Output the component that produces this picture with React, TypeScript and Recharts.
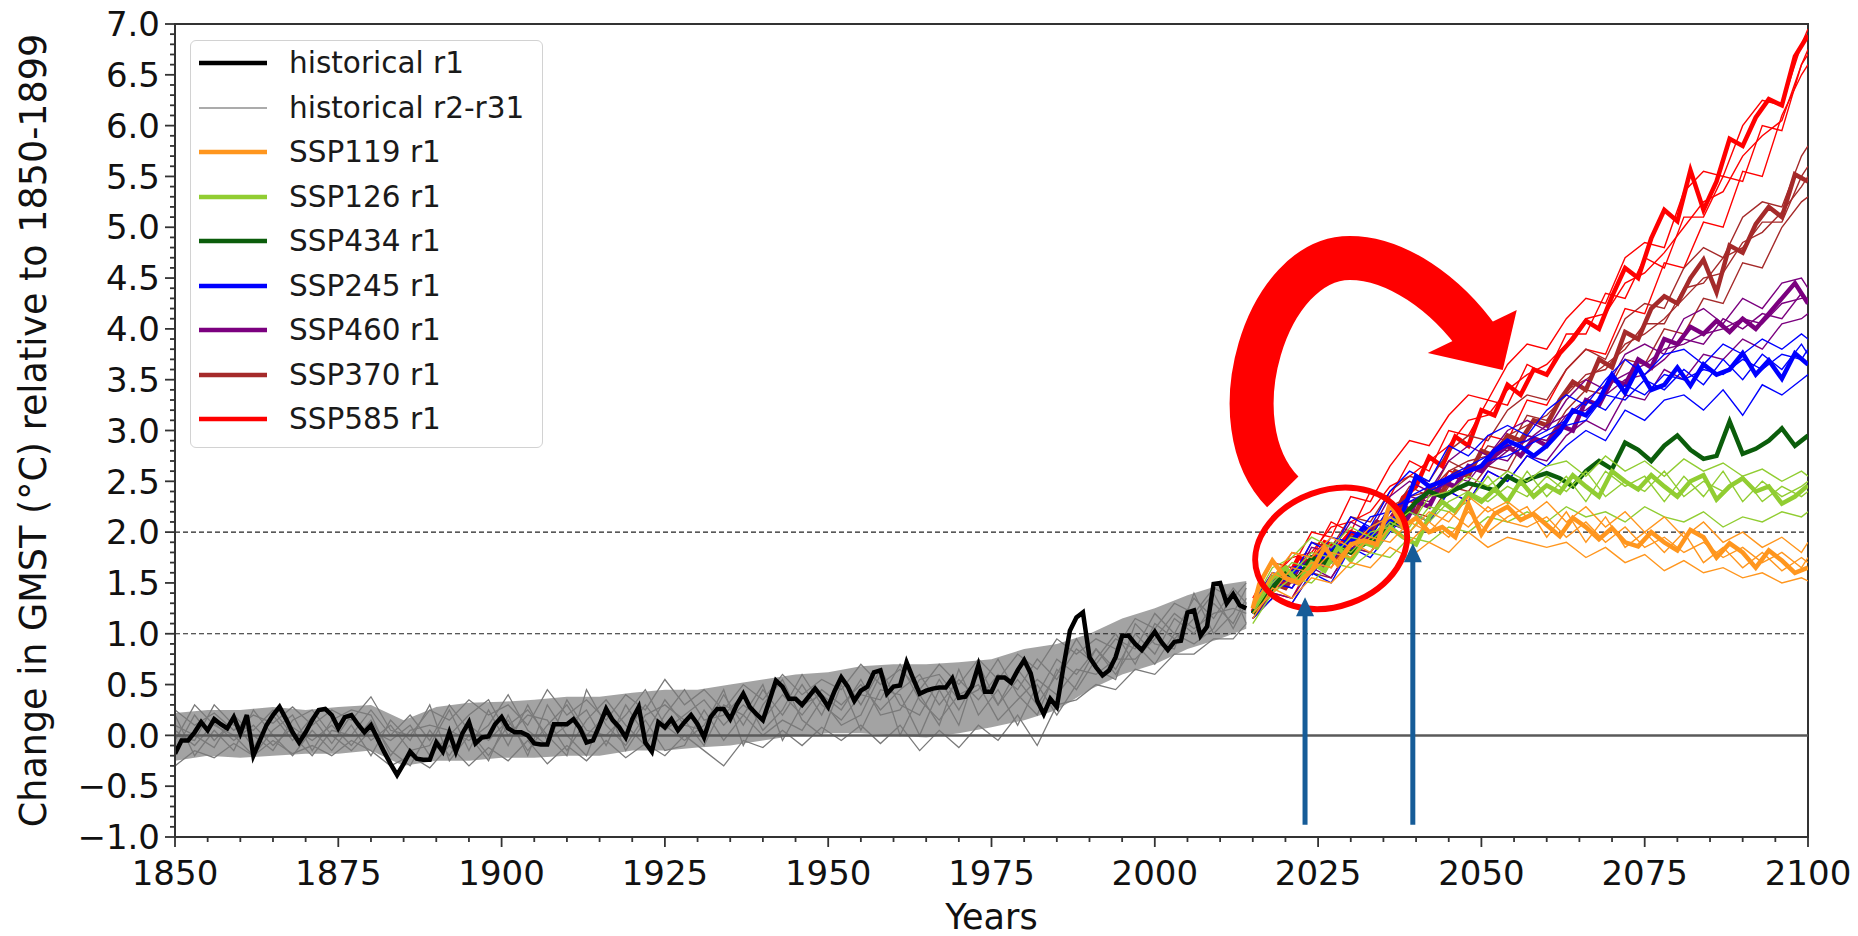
import React from "react";
import {
  ComposedChart,
  Line,
  Area,
  XAxis,
  YAxis,
  ReferenceLine,
  ReferenceDot,
  ReferenceArea,
  Legend,
} from "recharts";

const FONT = '"DejaVu Sans", "Liberation Sans", sans-serif';
const W = 1850;
const H = 936;

const seq = (a: number, b: number, s: number) => {
  const out: number[] = [];
  for (let v = a; v <= b + 1e-9; v += s) out.push(v);
  return out;
};

// ---------- categories ----------
const histYears = seq(1850, 2014, 1);
const memberYears = [...seq(1850, 2012, 3), 2014];
const bandYears = [...seq(1850, 2010, 5), 2014];
const projYears = [2015, ...seq(2016, 2100, 2)];
const thinYears = [...seq(2015, 2099, 3), 2100];
const xTicks = seq(1850, 2100, 5);
const yTicks = Array.from({ length: 81 }, (_, i) => (i - 10) / 10);

// ---------- historical r1 ----------
const histR1 = [
  -0.18, -0.05, -0.05, 0.03, 0.13, 0.05, 0.16, 0.11, 0.07, 0.18,
  0.02, 0.2, -0.2, -0.05, 0.1, 0.2, 0.28, 0.16, 0.03, -0.07,
  0.03, 0.15, 0.25, 0.26, 0.2, 0.07, 0.18, 0.2, 0.11, 0.03,
  0.1, -0.03, -0.16, -0.28, -0.39, -0.28, -0.16, -0.23, -0.24, -0.24,
  -0.07, -0.16, 0.03, -0.16, 0.02, 0.13, -0.08, -0.02, -0.01, 0.11,
  0.18, 0.07, 0.03, 0.03, 0.0, -0.08, -0.09, -0.09, 0.11, 0.11,
  0.11, 0.16, 0.07, -0.07, -0.05, 0.1, 0.26, 0.15, 0.08, -0.02,
  0.16, 0.28, -0.07, -0.16, 0.13, 0.08, 0.16, 0.05, 0.13, 0.2,
  0.11, -0.02, 0.18, 0.26, 0.26, 0.16, 0.3, 0.41, 0.28, 0.21,
  0.15, 0.34, 0.54, 0.48, 0.36, 0.36, 0.3, 0.38, 0.46, 0.38,
  0.28, 0.44, 0.57, 0.48, 0.34, 0.44, 0.48, 0.62, 0.64, 0.41,
  0.48, 0.49, 0.72, 0.56, 0.41, 0.44, 0.46, 0.47, 0.47, 0.56,
  0.37, 0.38, 0.48, 0.69, 0.43, 0.43, 0.57, 0.57, 0.52, 0.64,
  0.74, 0.61, 0.34, 0.21, 0.36, 0.28, 0.67, 1.03, 1.16, 1.21,
  0.77, 0.67, 0.59, 0.64, 0.77, 0.98, 0.98, 0.9, 0.84, 0.93,
  1.02, 0.92, 0.84, 0.92, 0.93, 1.21, 1.23, 0.98, 1.07, 1.49,
  1.5, 1.3, 1.39, 1.28, 1.25,
];

// ---------- historical r2-r31 (spread) ----------
const bandLo = [
  -0.25, -0.2, -0.22, -0.2, -0.18, -0.18, -0.15, -0.3, -0.25, -0.25,
  -0.22, -0.22, -0.2, -0.2, -0.15, -0.15, -0.12, -0.1, -0.05, 0.0,
  0.02, 0.02, 0.0, -0.02, 0.02, 0.08, 0.15, 0.25, 0.45, 0.6,
  0.7, 0.85, 0.95, 1.05,
];
const bandHi = [
  0.22, 0.25, 0.25, 0.28, 0.25, 0.28, 0.3, 0.15, 0.28, 0.32,
  0.33, 0.35, 0.38, 0.38, 0.42, 0.45, 0.45, 0.5, 0.55, 0.6,
  0.62, 0.68, 0.7, 0.7, 0.72, 0.75, 0.85, 0.9, 1.0, 1.15,
  1.25, 1.38, 1.48, 1.52,
];
const histM1 = [
  0.25, 0.1, 0.22, 0.05, 0.2, 0.12, 0.28, 0.1, 0.25, 0.15,
  0.38, 0.05, 0.0, 0.25, 0.15, 0.35, 0.2, 0.3, 0.1, 0.45,
  0.2, 0.35, 0.15, 0.4, 0.25, 0.55, 0.3, 0.45, 0.25, 0.5,
  0.35, 0.6, 0.4, 0.55, 0.45, 0.7, 0.5, 0.65, 0.45, 0.7,
  0.5, 0.75, 0.55, 0.8, 0.65, 0.95, 0.8, 0.95, 0.85, 1.15,
  1.05, 1.3, 1.2, 1.45, 1.35, 1.5,
];
const histM2 = [
  -0.3, -0.15, -0.22, -0.08, -0.2, -0.05, -0.18, -0.1, -0.2, -0.05,
  -0.15, -0.3, -0.2, -0.32, -0.1, -0.3, -0.12, -0.25, -0.05, -0.28,
  -0.1, -0.25, -0.05, -0.22, -0.08, -0.2, 0.0, -0.15, -0.3, -0.05,
  -0.12, 0.05, -0.1, 0.08, -0.05, 0.1, -0.08, 0.1, -0.15, 0.05,
  -0.12, 0.1, -0.05, 0.2, -0.1, 0.3, 0.35, 0.5, 0.45, 0.65,
  0.6, 0.8, 0.8, 0.95, 0.95, 1.1,
];
const histM3 = [
  0.05, -0.1, 0.12, -0.05, 0.1, -0.1, 0.08, -0.05, 0.1, -0.1,
  0.15, -0.15, -0.3, 0.05, -0.2, 0.1, -0.05, 0.15, -0.15, 0.1,
  0.3, 0.0, 0.2, 0.02, 0.3, 0.05, 0.2, 0.35, 0.1, 0.3,
  0.15, 0.4, 0.2, 0.45, 0.3, 0.5, 0.25, 0.45, 0.6, 0.3,
  0.55, 0.35, 0.6, 0.45, 0.75, 0.55, 0.85, 0.7, 0.95, 0.85,
  1.2, 1.0, 1.35, 1.15, 1.45, 1.3,
];
const histM4 = [
  -0.15, 0.2, -0.05, 0.15, -0.12, 0.2, -0.05, 0.18, -0.08, 0.2,
  -0.05, 0.1, -0.15, -0.1, 0.25, -0.15, 0.25, -0.1, 0.3, -0.05,
  0.1, 0.25, -0.1, 0.3, 0.0, 0.35, 0.1, 0.05, 0.4, 0.1,
  0.45, 0.2, 0.5, 0.2, 0.6, 0.3, 0.65, 0.3, 0.2, 0.55,
  0.25, 0.6, 0.3, 0.65, 0.4, 0.75, 0.6, 0.85, 0.65, 1.0,
  0.8, 1.15, 1.0, 1.3, 1.1, 1.35,
];
const histM5 = [
  0.1, 0.0, -0.12, 0.2, 0.0, -0.15, 0.15, 0.25, 0.0, -0.15,
  0.05, -0.05, 0.1, -0.2, 0.0, 0.2, 0.35, 0.0, 0.2, 0.15,
  -0.15, 0.15, 0.35, 0.1, -0.1, 0.2, 0.45, 0.15, 0.2, 0.4,
  0.05, 0.25, 0.6, 0.3, 0.15, 0.4, 0.35, 0.7, 0.35, 0.15,
  0.4, 0.5, 0.15, 0.35, 0.55, 0.4, 0.65, 0.6, 0.75, 0.75,
  0.95, 1.2, 1.05, 1.2, 1.25, 1.2,
];
const histM6 = [
  0.2, -0.2, 0.05, -0.15, 0.25, 0.0, -0.2, 0.05, -0.15, 0.1,
  -0.2, 0.15, -0.05, 0.3, -0.25, 0.0, -0.25, 0.2, -0.2, 0.3,
  0.0, -0.2, 0.3, -0.15, 0.15, -0.15, -0.1, 0.25, -0.05, 0.2,
  0.0, 0.15, 0.05, 0.35, 0.1, 0.2, 0.6, 0.0, 0.4, 0.1,
  0.65, 0.2, 0.45, 0.1, 0.5, 0.2, 0.5, 0.85, 0.6, 0.9,
  0.7, 1.0, 0.9, 1.05, 1.4, 1.1,
];
const histM7 = [
  -0.05, 0.3, 0.1, 0.0, -0.2, 0.05, 0.2, -0.15, 0.15, 0.25,
  0.2, -0.2, 0.05, 0.1, 0.05, -0.05, 0.1, 0.4, 0.05, -0.1,
  0.35, 0.05, 0.0, 0.2, 0.45, 0.1, -0.05, 0.1, 0.45, -0.1,
  0.3, 0.55, 0.15, 0.0, 0.5, 0.05, 0.45, 0.4, 0.0, 0.45,
  0.1, 0.7, 0.3, 0.55, 0.3, 0.6, 0.95, 0.65, 0.55, 1.1,
  0.9, 0.85, 1.4, 1.0, 1.2, 1.45,
];
const histM8 = [
  0.0, -0.05, 0.3, 0.1, 0.05, 0.25, 0.0, -0.2, 0.05, 0.0,
  0.25, 0.0, 0.2, -0.05, 0.3, 0.05, -0.2, 0.1, 0.25, 0.0,
  -0.2, 0.45, 0.1, -0.1, 0.2, 0.3, 0.15, -0.1, 0.3, 0.2,
  0.5, -0.05, 0.3, 0.4, 0.25, 0.55, 0.2, 0.25, 0.55, 0.6,
  0.35, 0.45, 0.75, 0.4, 0.2, 0.65, 0.45, 0.75, 1.0, 0.7,
  1.1, 0.95, 1.15, 1.4, 1.05, 1.3,
];

// ---------- scenario r1 (projYears) ----------
const ssp119R1 = [
  1.25, 1.49, 1.72, 1.55, 1.5, 1.62, 1.85, 1.68, 1.88, 1.92,
  1.88, 2.28, 2.05, 2.14, 2.0, 2.05, 1.95, 2.28, 1.98, 2.18,
  2.25, 2.12, 2.18, 2.07, 1.96, 2.14, 2.05, 1.93, 2.04, 1.9,
  1.86, 2.0, 1.9, 1.82, 2.02, 1.95, 1.75, 1.89, 1.8, 1.65,
  1.82, 1.72, 1.6, 1.65,
];
const ssp126R1 = [
  1.25, 1.35, 1.55, 1.65, 1.5, 1.7, 1.62, 1.85, 1.72, 1.9,
  1.85, 2.05, 1.95, 1.88, 2.15, 2.3, 2.2, 2.38, 2.3, 2.42,
  2.3, 2.5, 2.35, 2.46, 2.39, 2.56, 2.45, 2.35, 2.6, 2.5,
  2.42, 2.56, 2.45, 2.35, 2.5, 2.56, 2.32, 2.45, 2.53, 2.4,
  2.45, 2.28, 2.35, 2.46,
];
const ssp434R1 = [
  1.2, 1.3, 1.45, 1.6, 1.55, 1.75, 1.7, 1.85, 1.8, 1.88,
  1.95, 2.05, 2.15, 2.3, 2.4, 2.35, 2.42, 2.48, 2.45, 2.41,
  2.55, 2.48, 2.54, 2.58, 2.53, 2.45, 2.6, 2.7, 2.62, 2.88,
  2.81, 2.7, 2.85, 2.95, 2.81, 2.72, 2.75, 3.09, 2.77, 2.82,
  2.9, 3.02, 2.85, 2.95,
];
const ssp245R1 = [
  1.2, 1.3, 1.5, 1.55, 1.65, 1.6, 1.78, 1.85, 1.9, 2.05,
  1.95, 2.1, 2.2, 2.55, 2.45, 2.5, 2.55, 2.6, 2.65, 2.8,
  2.9, 2.84, 2.75, 2.85, 2.99, 3.2, 3.15, 3.3, 3.55, 3.37,
  3.62, 3.4, 3.45, 3.62, 3.44, 3.65, 3.55, 3.6, 3.76, 3.55,
  3.69, 3.51, 3.76, 3.65,
];
const ssp460R1 = [
  1.2, 1.28, 1.45, 1.55, 1.5, 1.7, 1.65, 1.85, 1.8, 1.95,
  1.9, 2.1, 2.05, 2.3, 2.25, 2.5, 2.45, 2.65, 2.6, 2.75,
  2.85, 2.75, 2.92, 2.85, 3.05, 3.0, 3.3, 3.25, 3.5, 3.45,
  3.7, 3.62, 3.9, 3.85, 4.02, 3.95, 4.08, 3.97, 4.1, 4.0,
  4.15, 4.3, 4.45, 4.25,
];
const ssp370R1 = [
  1.2, 1.3, 1.5, 1.45, 1.65, 1.6, 1.8, 1.75, 1.95, 1.9,
  2.1, 2.05, 2.25, 2.2, 2.45, 2.4, 2.6, 2.55, 2.8, 2.75,
  2.95, 2.9, 3.1, 3.05, 3.3, 3.48, 3.4, 3.7, 3.62, 3.97,
  3.9, 4.2, 4.32, 4.25, 4.5, 4.68, 4.36, 4.82, 4.75, 5.03,
  5.2, 5.1, 5.52, 5.45,
];
const ssp585R1 = [
  1.22, 1.35, 1.55, 1.5, 1.75, 1.7, 1.9, 1.85, 2.0, 1.95,
  2.1, 2.05, 2.34, 2.45, 2.74, 2.65, 2.94, 2.85, 3.2, 3.15,
  3.45, 3.35, 3.6, 3.55, 3.76, 3.9, 4.08, 4.0, 4.32, 4.6,
  4.5, 4.89, 5.17, 5.06, 5.56, 5.17, 5.45, 5.87, 5.8, 6.08,
  6.26, 6.2, 6.68, 6.89,
];

// ---------- scenario other members (thinYears) ----------
const ssp119A = [1.3, 1.55, 1.8, 1.75, 1.95, 1.85, 2.05, 2.15, 2.0, 2.2, 2.1, 2.35, 2.2, 2.3, 2.15, 2.3, 2.1, 2.25, 2.05, 2.2, 2.0, 2.15, 1.95, 2.1, 1.9, 2.0, 1.85, 1.95, 1.8, 1.9];
const ssp119B = [1.15, 1.45, 1.35, 1.55, 1.5, 1.7, 1.65, 1.85, 1.75, 1.9, 1.8, 2.0, 1.85, 1.95, 1.9, 1.85, 1.9, 1.75, 1.85, 1.7, 1.78, 1.62, 1.72, 1.6, 1.65, 1.55, 1.6, 1.5, 1.55, 1.52];
const ssp119C = [1.2, 1.4, 1.65, 1.6, 1.8, 1.75, 1.95, 1.9, 2.1, 2.0, 2.2, 2.05, 2.25, 2.1, 2.05, 2.15, 1.95, 2.1, 1.9, 2.05, 1.85, 1.95, 1.8, 1.9, 1.75, 1.85, 1.7, 1.8, 1.65, 1.75];
const ssp119D = [1.25, 1.6, 1.5, 1.7, 1.65, 1.9, 1.8, 2.05, 1.9, 2.1, 1.95, 2.2, 2.0, 2.15, 2.25, 1.95, 2.2, 1.9, 2.15, 1.85, 2.0, 1.8, 2.0, 1.7, 1.85, 1.65, 1.8, 1.62, 1.75, 1.7];
const ssp126A = [1.3, 1.65, 1.75, 1.95, 1.85, 2.05, 1.95, 2.15, 2.05, 2.35, 2.4, 2.55, 2.45, 2.6, 2.5, 2.65, 2.7, 2.55, 2.75, 2.6, 2.7, 2.55, 2.72, 2.6, 2.68, 2.55, 2.62, 2.5, 2.6, 2.55];
const ssp126B = [1.1, 1.4, 1.55, 1.5, 1.7, 1.65, 1.8, 1.75, 1.95, 1.9, 2.05, 2.0, 2.15, 2.1, 2.2, 2.1, 2.25, 2.15, 2.2, 2.1, 2.25, 2.15, 2.1, 2.2, 2.05, 2.15, 2.1, 2.2, 2.15, 2.2];
const ssp126C = [1.2, 1.5, 1.7, 1.65, 1.9, 1.8, 2.0, 2.05, 2.2, 2.1, 2.3, 2.4, 2.3, 2.45, 2.35, 2.55, 2.4, 2.6, 2.35, 2.5, 2.4, 2.6, 2.35, 2.5, 2.4, 2.55, 2.3, 2.45, 2.35, 2.4];
const ssp126D = [1.25, 1.55, 1.6, 1.8, 1.75, 1.95, 1.9, 2.1, 2.0, 2.25, 2.2, 2.3, 2.55, 2.3, 2.6, 2.35, 2.55, 2.3, 2.6, 2.45, 2.55, 2.3, 2.55, 2.35, 2.6, 2.3, 2.5, 2.35, 2.45, 2.5];
const ssp245A = [1.3, 1.6, 1.55, 1.9, 1.8, 2.15, 2.05, 2.4, 2.6, 2.5, 2.85, 2.75, 2.95, 3.05, 2.95, 3.2, 3.35, 3.25, 3.5, 3.7, 3.55, 3.75, 3.8, 3.65, 3.85, 3.75, 3.9, 3.8, 3.95, 3.9];
const ssp245B = [1.15, 1.35, 1.3, 1.6, 1.5, 1.85, 1.75, 2.0, 2.2, 2.1, 2.4, 2.3, 2.6, 2.5, 2.75, 2.65, 2.85, 3.0, 2.9, 3.2, 3.1, 3.3, 3.35, 3.2, 3.4, 3.15, 3.45, 3.35, 3.5, 3.55];
const ssp245C = [1.2, 1.45, 1.65, 1.7, 1.95, 1.9, 2.15, 2.2, 2.35, 2.45, 2.55, 2.65, 2.75, 2.85, 2.9, 3.0, 3.1, 3.3, 3.2, 3.45, 3.35, 3.55, 3.5, 3.6, 3.55, 3.7, 3.6, 3.75, 3.7, 3.8];
const ssp245D = [1.25, 1.5, 1.45, 1.75, 1.7, 2.0, 1.95, 2.25, 2.3, 2.4, 2.5, 2.6, 2.7, 2.75, 2.85, 2.95, 3.05, 3.1, 3.35, 3.3, 3.5, 3.4, 3.6, 3.45, 3.7, 3.5, 3.75, 3.6, 3.85, 3.75];
const ssp460A = [1.3, 1.55, 1.5, 1.85, 1.8, 2.1, 2.0, 2.35, 2.5, 2.4, 2.7, 2.85, 2.75, 3.0, 3.1, 3.0, 3.3, 3.5, 3.4, 3.75, 3.85, 3.75, 4.1, 4.2, 4.05, 4.3, 4.2, 4.45, 4.5, 4.4];
const ssp460B = [1.15, 1.4, 1.35, 1.65, 1.55, 1.85, 1.8, 2.05, 2.2, 2.1, 2.4, 2.3, 2.6, 2.5, 2.75, 2.7, 2.95, 3.1, 3.0, 3.35, 3.3, 3.6, 3.5, 3.75, 3.7, 3.9, 3.8, 4.05, 4.1, 4.15];
const ssp460C = [1.2, 1.45, 1.6, 1.75, 1.7, 1.95, 1.9, 2.2, 2.3, 2.35, 2.5, 2.6, 2.65, 2.8, 2.9, 3.05, 3.15, 3.3, 3.45, 3.55, 3.65, 3.8, 3.85, 3.95, 4.0, 4.1, 4.05, 4.25, 4.3, 4.3];
const ssp460D = [1.25, 1.5, 1.45, 1.7, 1.85, 1.9, 2.05, 2.15, 2.35, 2.3, 2.55, 2.5, 2.75, 2.7, 2.95, 2.9, 3.15, 3.2, 3.35, 3.5, 3.55, 3.7, 3.9, 3.85, 4.1, 4.0, 4.15, 4.1, 4.35, 4.25];
const ssp370A = [1.3, 1.6, 1.55, 1.9, 1.85, 2.15, 2.1, 2.4, 2.55, 2.5, 2.8, 2.95, 2.9, 3.2, 3.35, 3.3, 3.6, 3.8, 3.7, 4.1, 4.25, 4.2, 4.6, 4.8, 4.7, 5.1, 5.25, 5.2, 5.7, 5.8];
const ssp370B = [1.15, 1.35, 1.3, 1.6, 1.55, 1.85, 1.8, 2.05, 2.2, 2.15, 2.45, 2.4, 2.65, 2.6, 2.95, 2.9, 3.2, 3.4, 3.35, 3.7, 3.65, 4.0, 3.95, 4.3, 4.25, 4.65, 4.6, 5.0, 5.25, 5.3];
const ssp370C = [1.2, 1.45, 1.6, 1.75, 1.7, 2.0, 1.95, 2.25, 2.35, 2.4, 2.6, 2.7, 2.75, 2.95, 3.05, 3.15, 3.35, 3.55, 3.6, 3.85, 3.95, 4.1, 4.3, 4.5, 4.55, 4.85, 4.95, 5.15, 5.4, 5.5];
const ssp370D = [1.25, 1.5, 1.45, 1.7, 1.8, 1.95, 2.05, 2.15, 2.45, 2.35, 2.7, 2.6, 2.85, 2.8, 3.15, 3.1, 3.4, 3.5, 3.65, 3.8, 4.05, 4.05, 4.4, 4.45, 4.7, 4.8, 5.05, 5.05, 5.5, 5.6];
const ssp585A = [1.35, 1.7, 1.65, 2.0, 1.95, 2.35, 2.3, 2.65, 2.9, 2.85, 3.15, 3.35, 3.3, 3.65, 3.85, 3.8, 4.1, 4.3, 4.25, 4.7, 4.85, 4.8, 5.35, 5.55, 5.5, 6.0, 6.25, 6.2, 6.8, 6.95];
const ssp585B = [1.15, 1.4, 1.35, 1.7, 1.65, 1.95, 1.9, 2.15, 2.3, 2.25, 2.6, 2.55, 2.95, 2.9, 3.3, 3.25, 3.6, 3.8, 3.75, 4.2, 4.15, 4.65, 4.6, 5.05, 5.0, 5.55, 5.5, 6.1, 6.5, 6.6];
const ssp585C = [1.25, 1.55, 1.75, 1.8, 2.05, 2.1, 2.2, 2.45, 2.55, 2.7, 2.85, 3.1, 3.15, 3.4, 3.55, 3.65, 3.85, 4.1, 4.15, 4.45, 4.55, 4.75, 5.0, 5.25, 5.35, 5.7, 5.9, 6.05, 6.6, 6.75];
const ssp585D = [1.3, 1.5, 1.8, 1.75, 2.1, 2.0, 2.4, 2.35, 2.7, 2.6, 3.0, 2.95, 3.3, 3.25, 3.65, 3.55, 3.95, 3.95, 4.35, 4.3, 4.7, 4.6, 5.1, 5.1, 5.5, 5.45, 6.0, 5.95, 6.6, 6.7];

// ---------- annotations (data coords) ----------
const blueArrowYears = [2023, 2039.5];
const blueArrowTips = [1.36, 1.89];
const blueArrowBase = -0.88;
const circleCenter = { x: 2027, y: 1.84 };
const curvedArrowAnchor = { x: 2030, y: 4.0 };

// ---------- styles ----------
const C = {
  black: "#000000",
  gray: "#7a7a7a",
  grayLegend: "#ababab",
  s119: "#ff961e",
  s126: "#91cd32",
  s434: "#0b5d0b",
  s245: "#0000ff",
  s460: "#7b007f",
  s370: "#a52a2a",
  s585: "#ff0000",
  axis: "#333333",
  arrowBlue: "#165c98",
};

const rows = (xs: number[], vs: number[]) => xs.map((x, i) => ({ year: x, v: vs[i] }));

const bandRows = bandYears.map((y, i) => ({ year: y, band: [bandLo[i], bandHi[i]] }));
const histMembers = [histM1, histM2, histM3, histM4, histM5, histM6, histM7, histM8];

// draw order: bottom -> top
const scenarios = [
  { id: "585", color: C.s585, r1: ssp585R1, thin: [ssp585A, ssp585B, ssp585C, ssp585D] },
  { id: "370", color: C.s370, r1: ssp370R1, thin: [ssp370A, ssp370B, ssp370C, ssp370D] },
  { id: "460", color: C.s460, r1: ssp460R1, thin: [ssp460A, ssp460B, ssp460C, ssp460D] },
  { id: "245", color: C.s245, r1: ssp245R1, thin: [ssp245A, ssp245B, ssp245C, ssp245D] },
  { id: "434", color: C.s434, r1: ssp434R1, thin: [] as number[][] },
  { id: "126", color: C.s126, r1: ssp126R1, thin: [ssp126A, ssp126B, ssp126C, ssp126D] },
  { id: "119", color: C.s119, r1: ssp119R1, thin: [ssp119A, ssp119B, ssp119C, ssp119D] },
];

const legendItems = [
  { label: "historical r1", color: C.black, w: 4.5 },
  { label: "historical r2-r31", color: C.grayLegend, w: 2 },
  { label: "SSP119 r1", color: C.s119, w: 4.5 },
  { label: "SSP126 r1", color: C.s126, w: 4.5 },
  { label: "SSP434 r1", color: C.s434, w: 4.5 },
  { label: "SSP245 r1", color: C.s245, w: 4.5 },
  { label: "SSP460 r1", color: C.s460, w: 4.5 },
  { label: "SSP370 r1", color: C.s370, w: 4.5 },
  { label: "SSP585 r1", color: C.s585, w: 4.5 },
];

const yLabel = "Change in GMST (°C) relative to 1850-1899";
const xLabel = "Years";

const fmtY = (v: number) => (v < 0 ? "\u2212" : "") + Math.abs(v).toFixed(1);

const XTick = (p: any) => {
  const v = p.payload.value;
  const major = Math.abs(v % 25) < 1e-6;
  return (
    <g>
      <line x1={p.x} x2={p.x} y1={p.y} y2={p.y + (major ? 10 : 5)} stroke={C.axis} strokeWidth={1.8} />
      {major && (
        <text x={p.x} y={p.y + 48} textAnchor="middle" fontSize={34} fontFamily={FONT} fill="#111">
          {v}
        </text>
      )}
    </g>
  );
};

const YTick = (p: any) => {
  const v = p.payload.value;
  const major = Math.abs(v * 2 - Math.round(v * 2)) < 1e-6;
  return (
    <g>
      <line x1={p.x} x2={p.x - (major ? 10 : 5)} y1={p.y} y2={p.y} stroke={C.axis} strokeWidth={1.8} />
      {major && (
        <text x={p.x - 15} y={p.y} dy="0.36em" textAnchor="end" fontSize={34} fontFamily={FONT} fill="#111">
          {fmtY(v)}
        </text>
      )}
    </g>
  );
};

const YLabel = (p: any) => {
  const vb = p.viewBox || { x: 0, y: 24, width: 167, height: 813 };
  const cx = vb.x + 25;
  const cy = vb.y + vb.height / 2;
  return (
    <text
      x={cx}
      y={cy}
      transform={`rotate(-90 ${cx} ${cy})`}
      textAnchor="middle"
      dominantBaseline="central"
      fontSize={36.5}
      fontFamily={FONT}
      fill="#111"
    >
      {yLabel}
    </text>
  );
};

const XLabel = (p: any) => {
  const vb = p.viewBox || { x: 167, y: 837, width: 1633, height: 99 };
  return (
    <text x={vb.x + vb.width / 2} y={vb.y + 92} textAnchor="middle" fontSize={35} fontFamily={FONT} fill="#111">
      {xLabel}
    </text>
  );
};

const EllipseShape = (p: any) => (
  <ellipse
    cx={p.cx}
    cy={p.cy}
    rx={78}
    ry={58}
    transform={`rotate(-20 ${p.cx} ${p.cy})`}
    fill="none"
    stroke="#ff0000"
    strokeWidth={6}
  />
);

const CurvedArrowShape = (p: any) => {
  const cx = p.cx;
  const cy = p.cy;
  const P = (dx: number, dy: number) => `${cx + dx} ${cy + dy}`;
  const d = `M ${P(-68, 163)} C ${P(-135, 95)}, ${P(-85, -71)}, ${P(-1, -71)} C ${P(45, -71)}, ${P(95, -36)}, ${P(129, 12)}`;
  return (
    <g>
      <path d={d} fill="none" stroke="#ff0000" strokeWidth={44} strokeLinecap="butt" />
      <polygon points={`${P(77, 24)} ${P(166, -19)} ${P(152, 41)}`} fill="#ff0000" />
    </g>
  );
};

const BlueHead = (p: any) => (
  <polygon points={`${p.cx},${p.cy} ${p.cx - 9},${p.cy + 19} ${p.cx + 9},${p.cy + 19}`} fill={C.arrowBlue} />
);

const LegendBox = () => (
  <div
    style={{
      position: "relative",
      width: 353,
      height: 408,
      boxSizing: "border-box",
      border: "1.5px solid #d2d2d2",
      borderRadius: 6,
      background: "rgba(255,255,255,0.85)",
      fontFamily: FONT,
    }}
  >
    {legendItems.map((it, i) => (
      <div
        key={it.label}
        style={{
          position: "absolute",
          left: 0,
          top: 22 + i * 44.5 - 20,
          height: 40,
          display: "flex",
          alignItems: "center",
          whiteSpace: "nowrap",
        }}
      >
        <svg width={98} height={40} style={{ display: "block" }}>
          <line x1={8} x2={76} y1={20} y2={20} stroke={it.color} strokeWidth={it.w} />
        </svg>
        <span style={{ fontSize: 29.5, lineHeight: "40px", color: "#1a1a1a" }}>{it.label}</span>
      </div>
    ))}
  </div>
);

export default function App() {
  return (
    <div style={{ width: W, height: H, marginTop: -8, fontFamily: FONT }}>
      <style>{"body{overflow:hidden}"}</style>
      <ComposedChart width={W} height={H} margin={{ top: 24, right: 50, bottom: 0, left: 0 }}>
        <XAxis
          dataKey="year"
          type="number"
          domain={[1850, 2100]}
          allowDataOverflow
          ticks={xTicks}
          interval={0}
          tickSize={0}
          tickMargin={0}
          tickLine={false}
          axisLine={{ stroke: C.axis, strokeWidth: 2 }}
          height={99}
          tick={XTick}
          label={XLabel}
        />
        <YAxis
          type="number"
          domain={[-1, 7]}
          allowDataOverflow
          ticks={yTicks}
          interval={0}
          tickSize={0}
          tickMargin={0}
          tickLine={false}
          axisLine={{ stroke: C.axis, strokeWidth: 2 }}
          width={167}
          tick={YTick}
          label={YLabel}
        />
        <Legend
          layout="vertical"
          align="center"
          verticalAlign="middle"
          wrapperStyle={{ left: 182, top: 40, width: 353, height: 408 }}
          content={() => <LegendBox />}
        />

        <ReferenceLine y={1} stroke="#222" strokeWidth={1.2} strokeDasharray="5 3" />
        <ReferenceLine y={2} stroke="#222" strokeWidth={1.2} strokeDasharray="5 3" />

        <Area
          data={bandRows}
          dataKey="band"
          type="linear"
          stroke="none"
          fill="#8c8c8c"
          fillOpacity={0.8}
          isAnimationActive={false}
          legendType="none"
        />
        {histMembers.map((m, i) => (
          <Line
            key={"hm" + i}
            data={rows(memberYears, m)}
            dataKey="v"
            type="linear"
            stroke={C.gray}
            strokeWidth={1.3}
            dot={false}
            activeDot={false}
            isAnimationActive={false}
            legendType="none"
          />
        ))}
        <ReferenceLine y={0} stroke="#5a5a5a" strokeWidth={2.5} />
        <Line
          data={rows(histYears, histR1)}
          dataKey="v"
          type="linear"
          stroke={C.black}
          strokeWidth={4.5}
          dot={false}
          activeDot={false}
          isAnimationActive={false}
          legendType="none"
        />

        {scenarios.map((s) => [
          ...s.thin.map((t, j) => (
            <Line
              key={s.id + "t" + j}
              data={rows(thinYears, t)}
              dataKey="v"
              type="linear"
              stroke={s.color}
              strokeWidth={1.4}
              dot={false}
              activeDot={false}
              isAnimationActive={false}
              legendType="none"
            />
          )),
          <Line
            key={s.id + "r1"}
            data={rows(projYears, s.r1)}
            dataKey="v"
            type="linear"
            stroke={s.color}
            strokeWidth={4.5}
            dot={false}
            activeDot={false}
            isAnimationActive={false}
            legendType="none"
          />,
        ])}

        <ReferenceArea x1={1850} x2={2100} y1={-1} y2={7} fill="none" stroke={C.axis} strokeWidth={2} />

        <ReferenceDot x={circleCenter.x} y={circleCenter.y} r={1} shape={EllipseShape} />
        <ReferenceDot x={curvedArrowAnchor.x} y={curvedArrowAnchor.y} r={1} shape={CurvedArrowShape} />
        {blueArrowYears.map((yr, i) => (
          <ReferenceLine
            key={"ba" + i}
            segment={[
              { x: yr, y: blueArrowBase },
              { x: yr, y: blueArrowTips[i] - 0.12 },
            ]}
            stroke={C.arrowBlue}
            strokeWidth={5}
          />
        ))}
        {blueArrowYears.map((yr, i) => (
          <ReferenceDot key={"bh" + i} x={yr} y={blueArrowTips[i]} r={1} shape={BlueHead} />
        ))}
      </ComposedChart>
    </div>
  );
}
